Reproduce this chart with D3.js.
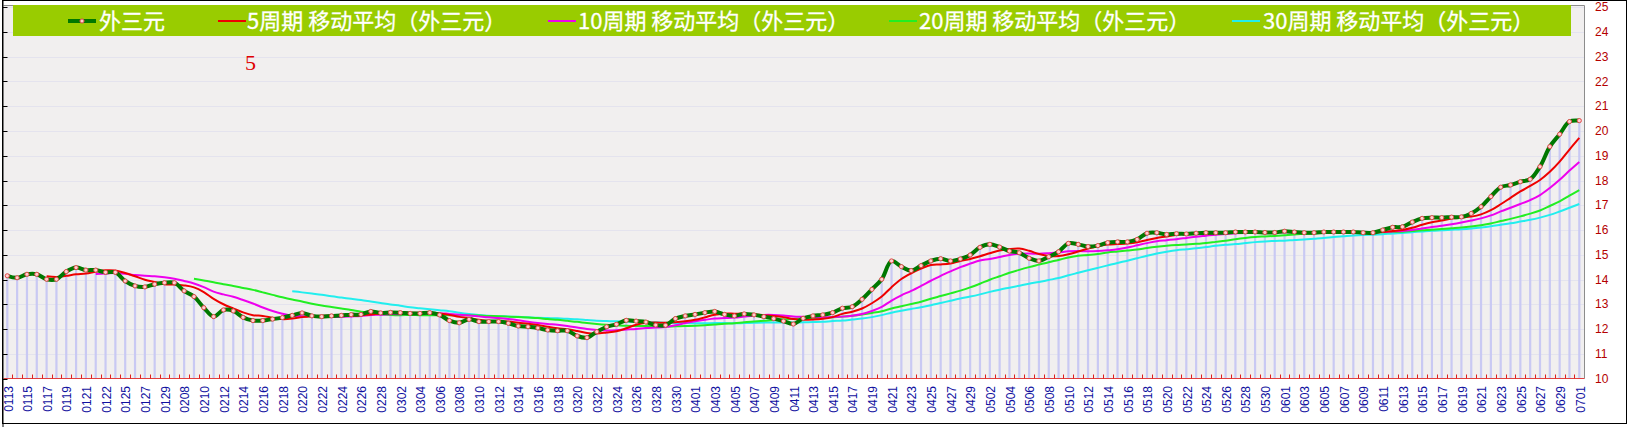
<!DOCTYPE html>
<html><head><meta charset="utf-8">
<script src="https://cdn.jsdelivr.net/npm/d3@7"></script>
<style>body{margin:0;background:#fff}svg{display:block}</style>
</head><body><svg id="c" width="1630" height="427"></svg>
<script>
const tickLabels = ["0113","0115","0117","0119","0121","0122","0125","0127","0129","0208","0210","0212","0214","0216","0218","0220","0222","0224","0226","0228","0302","0304","0306","0308","0310","0312","0314","0316","0318","0320","0322","0324","0326","0328","0330","0401","0403","0405","0407","0409","0411","0413","0415","0417","0419","0421","0423","0425","0427","0429","0502","0504","0506","0508","0510","0512","0514","0516","0518","0520","0522","0524","0526","0528","0530","0601","0603","0605","0607","0609","0611","0613","0615","0617","0619","0621","0623","0625","0627","0629","0701"];
const outerSeries = [14.15,14.07,14.21,14.21,14.01,14.01,14.32,14.48,14.38,14.38,
14.29,14.29,13.94,13.74,13.70,13.81,13.87,13.87,13.54,13.31,
12.86,12.50,12.77,12.73,12.47,12.34,12.34,12.40,12.46,12.55,
12.65,12.53,12.50,12.53,12.55,12.58,12.59,12.71,12.65,12.67,
12.66,12.63,12.63,12.66,12.57,12.34,12.25,12.39,12.30,12.30,
12.30,12.23,12.12,12.09,12.04,11.96,11.93,11.93,11.72,11.65,
11.89,12.09,12.19,12.35,12.32,12.28,12.16,12.15,12.42,12.53,
12.59,12.66,12.71,12.59,12.53,12.61,12.57,12.50,12.42,12.32,
12.20,12.43,12.53,12.57,12.66,12.84,12.90,13.20,13.60,14.01,
14.75,14.52,14.36,14.56,14.75,14.84,14.75,14.83,14.99,15.30,
15.42,15.31,15.15,15.08,14.86,14.75,14.92,15.12,15.46,15.42,
15.33,15.37,15.49,15.52,15.52,15.62,15.87,15.89,15.82,15.85,
15.84,15.87,15.89,15.89,15.89,15.92,15.92,15.92,15.90,15.90,
15.95,15.92,15.89,15.89,15.92,15.92,15.92,15.92,15.89,15.89,
16.00,16.11,16.13,16.32,16.47,16.50,16.50,16.52,16.53,16.67,
16.94,17.35,17.73,17.82,17.95,18.05,18.56,19.37,19.87,20.38,
20.42];
// moving-average series (each starts at index period-1)
const ma5 = [14.13,14.10,14.15,14.21,14.24,14.31,14.37,14.36,14.26,14.13,
13.99,13.90,13.81,13.80,13.76,13.68,13.49,13.22,13.00,12.83,
12.67,12.56,12.53,12.46,12.40,12.42,12.48,12.52,12.54,12.55,
12.55,12.54,12.55,12.59,12.62,12.64,12.66,12.66,12.65,12.65,
12.63,12.57,12.49,12.44,12.37,12.32,12.31,12.30,12.25,12.21,
12.16,12.09,12.03,11.99,11.92,11.84,11.82,11.86,11.91,12.03,
12.17,12.25,12.26,12.25,12.27,12.31,12.37,12.47,12.58,12.62,
12.62,12.62,12.60,12.56,12.53,12.48,12.40,12.37,12.38,12.41,
12.48,12.61,12.70,12.83,13.04,13.31,13.69,14.02,14.25,14.44,
14.59,14.61,14.65,14.75,14.83,14.94,15.06,15.17,15.23,15.25,
15.16,15.03,14.95,14.95,15.02,15.13,15.25,15.34,15.41,15.43,
15.45,15.50,15.60,15.68,15.74,15.81,15.85,15.85,15.85,15.87,
15.88,15.89,15.90,15.91,15.91,15.91,15.92,15.92,15.91,15.91,
15.91,15.91,15.91,15.91,15.91,15.91,15.92,15.96,16.00,16.09,
16.21,16.31,16.38,16.46,16.50,16.54,16.63,16.80,17.04,17.30,
17.56,17.78,18.02,18.35,18.76,19.25,19.72];
const ma10 = [14.22,14.24,14.26,14.23,14.18,14.15,14.13,14.09,14.03,13.94,
13.84,13.69,13.51,13.40,13.30,13.17,13.03,12.87,12.73,12.62,
12.54,12.52,12.52,12.50,12.48,12.49,12.51,12.53,12.57,12.58,
12.60,12.60,12.61,12.62,12.63,12.64,12.61,12.58,12.55,12.51,
12.47,12.44,12.40,12.35,12.29,12.24,12.20,12.17,12.12,12.06,
12.00,11.96,11.94,11.95,11.98,12.00,12.04,12.06,12.08,12.15,
12.24,12.31,12.37,12.42,12.44,12.46,12.50,12.54,12.57,12.57,
12.55,12.51,12.49,12.47,12.47,12.48,12.50,12.54,12.61,12.73,
12.89,13.15,13.36,13.54,13.74,13.95,14.15,14.33,14.50,14.64,
14.77,14.83,14.91,14.99,15.04,15.05,15.04,15.06,15.09,15.14,
15.15,15.14,15.15,15.18,15.22,15.29,15.38,15.47,15.55,15.59,
15.63,15.68,15.73,15.77,15.81,15.84,15.87,15.88,15.88,15.89,
15.89,15.91,15.91,15.91,15.91,15.91,15.91,15.91,15.91,15.91,
15.91,15.92,15.94,15.96,16.00,16.06,16.12,16.17,16.23,16.30,
16.38,16.47,16.59,16.75,16.90,17.05,17.21,17.41,17.70,18.03,
18.40,18.75];
const ma20 = [14.03,13.96,13.89,13.81,13.74,13.66,13.58,13.48,13.38,13.28,
13.19,13.11,13.02,12.95,12.89,12.83,12.77,12.70,12.65,12.60,
12.57,12.56,12.57,12.56,12.56,12.56,12.56,12.56,12.56,12.55,
12.53,12.52,12.50,12.48,12.46,12.44,12.40,12.37,12.33,12.29,
12.24,12.20,12.17,12.15,12.13,12.12,12.12,12.11,12.10,12.11,
12.12,12.13,12.15,12.18,12.21,12.23,12.27,12.30,12.33,12.36,
12.39,12.41,12.43,12.44,12.45,12.47,12.50,12.54,12.59,12.65,
12.72,12.83,12.92,13.01,13.10,13.22,13.33,13.44,13.55,13.68,
13.83,13.99,14.13,14.27,14.39,14.50,14.60,14.70,14.79,14.89,
14.96,14.99,15.03,15.09,15.13,15.17,15.21,15.27,15.32,15.36,
15.39,15.41,15.44,15.47,15.52,15.57,15.63,15.68,15.72,15.74,
15.76,15.79,15.82,15.84,15.86,15.88,15.89,15.90,15.90,15.90,
15.90,15.91,15.92,15.93,15.96,15.99,16.01,16.04,16.07,16.10,
16.14,16.19,16.26,16.36,16.45,16.55,16.66,16.79,16.97,17.16,
17.39,17.61];
const ma30 = [13.53,13.48,13.43,13.38,13.32,13.27,13.22,13.17,13.11,13.05,
12.99,12.94,12.88,12.84,12.80,12.76,12.72,12.66,12.61,12.57,
12.54,12.52,12.51,12.49,12.47,12.45,12.44,12.43,12.41,12.39,
12.36,12.33,12.32,12.31,12.30,12.29,12.28,12.27,12.25,12.24,
12.24,12.23,12.23,12.24,12.24,12.23,12.24,12.25,12.26,12.26,
12.26,12.26,12.27,12.28,12.29,12.32,12.34,12.38,12.42,12.48,
12.56,12.66,12.74,12.81,12.88,12.96,13.05,13.14,13.23,13.31,
13.40,13.50,13.59,13.67,13.75,13.83,13.90,13.98,14.06,14.17,
14.27,14.37,14.47,14.57,14.67,14.76,14.86,14.96,15.05,15.12,
15.18,15.22,15.26,15.31,15.36,15.40,15.43,15.47,15.51,15.54,
15.56,15.57,15.60,15.62,15.65,15.68,15.72,15.75,15.78,15.80,
15.81,15.83,15.86,15.88,15.91,15.94,15.97,15.99,16.01,16.03,
16.06,16.10,16.15,16.21,16.27,16.34,16.41,16.50,16.61,16.75,
16.90,17.05];
const yTickValues = [10,11,12,13,14,15,16,17,18,19,20,21,22,23,24,25];
const seriesNames = ["外三元","5周期 移动平均（外三元）","10周期 移动平均（外三元）","20周期 移动平均（外三元）","30周期 移动平均（外三元）"];
const maPeriods = [5,10,20,30];
const periodMark = "5";

const svg = d3.select("#c");
const L = 3.5, R = 1584.5, T = 5.5, B = 378.5;
const x = d3.scaleLinear().domain([0, outerSeries.length - 1]).range([7.3, 1579.3]);
const y = d3.scaleLinear().domain([10, 25]).range([B, 7.25]);

svg.append("rect").attr("x",0).attr("y",0).attr("width",1630).attr("height",427).attr("fill","#fff");
// plot background (paper tone)
svg.append("rect").attr("x",L).attr("y",T).attr("width",R-L).attr("height",B-T).attr("fill","#f1efef");
// gridlines
svg.append("g").selectAll("line").data(yTickValues.slice(1)).join("line")
  .attr("x1",L).attr("x2",R).attr("y1",d=>Math.round(y(d))+0.5).attr("y2",d=>Math.round(y(d))+0.5)
  .attr("stroke","#e4e3ee").attr("stroke-width",1);
// plot border (top/right gray)
svg.append("path").attr("d",`M${L},${T}H${R}V${B}`).attr("fill","none").attr("stroke","#8c8c8c");

// bars
svg.append("g").selectAll("rect").data(outerSeries).join("rect")
  .attr("x",(d,i)=>x(i)-1.1).attr("width",2.2)
  .attr("y",d=>y(d)).attr("height",d=>B-y(d)).attr("fill","#c9c9f3");

// moving averages
const maSets = [[ma5,"#ee0000"],[ma10,"#ee00ee"],[ma20,"#22ee22"],[ma30,"#22eeee"]];
const lineGen = d3.line().curve(d3.curveCatmullRom.alpha(0.5));
maSets.slice().reverse().forEach(([arr,col],k)=>{
  const p = maPeriods[3-k];
  svg.append("path").attr("fill","none").attr("stroke",col).attr("stroke-width",2)
    .attr("d", lineGen(arr.map((v,j)=>[x(j+p-1), y(v)])));
});
// main series
svg.append("path").attr("fill","none").attr("stroke","#007800").attr("stroke-width",4)
  .attr("d", lineGen(outerSeries.map((v,i)=>[x(i),y(v)])));
svg.append("g").selectAll("circle").data(outerSeries).join("circle")
  .attr("cx",(d,i)=>x(i)).attr("cy",d=>y(d)).attr("r",2.1)
  .attr("fill","#ffd0d0").attr("stroke","#e04848").attr("stroke-width",1);

// bottom axis: red base + ticks
const step = x(1)-x(0);
svg.append("line").attr("x1",L).attr("x2",R).attr("y1",B).attr("y2",B).attr("stroke","#e04040").attr("stroke-width",1);
svg.append("g").selectAll("line").data(outerSeries).join("line")
  .attr("x1",(d,i)=>Math.round(x(i)-step/2)+0.5).attr("x2",(d,i)=>Math.round(x(i)-step/2)+0.5)
  .attr("y1",B-4).attr("y2",B).attr("stroke","#e02020");
// x labels
svg.append("g").selectAll("text").data(tickLabels).join("text")
  .attr("transform",(d,i)=>`translate(${x(i*2)+1},386) rotate(-90)`)
  .attr("text-anchor","end").attr("dy","0.35em")
  .attr("font-family","Liberation Sans, Arial, sans-serif").attr("font-size",12)
  .attr("fill","#1010a0").text(d=>d);

// left axis
svg.append("line").attr("x1",L-0.5).attr("x2",L-0.5).attr("y1",0).attr("y2",427).attr("stroke","#000");
svg.append("g").selectAll("line").data(yTickValues).join("line")
  .attr("x1",L-0.5).attr("x2",L+4).attr("y1",d=>Math.round(y(d))+0.5).attr("y2",d=>Math.round(y(d))+0.5).attr("stroke","#000");
// right axis labels
svg.append("g").selectAll("text").data(yTickValues).join("text")
  .attr("x",1595).attr("y",d=>y(d)).attr("dy","0.35em")
  .attr("font-family","Liberation Sans, Arial, sans-serif").attr("font-size",12)
  .attr("fill","#b40000").text(d=>d);

// legend
svg.append("rect").attr("x",13).attr("y",5).attr("width",1558).attr("height",31).attr("fill","#99cc00");
const legendColors = ["#007800","#ee0000","#ee00ee","#22ee22","#22eeee"];
const legendLineX = [68,218,548,889,1232];
const legendTextX = [99,247,578,919,1263];
const lg = svg.append("g");
seriesNames.forEach((name,k)=>{
  lg.append("line").attr("x1",legendLineX[k]).attr("x2",legendLineX[k]+28).attr("y1",21).attr("y2",21)
    .attr("stroke",legendColors[k]).attr("stroke-width",k===0?4:2);
  if(k===0) lg.append("circle").attr("cx",legendLineX[k]+14).attr("cy",21).attr("r",2.1)
    .attr("fill","#ffd0d0").attr("stroke","#e04848");
  lg.append("text").attr("x",legendTextX[k]).attr("y",21).attr("dy","0.36em")
    .attr("font-family","Noto Sans CJK SC, sans-serif").attr("font-size",22)
    .attr("fill","#fff").attr("stroke","#fff").attr("stroke-width",0.3).text(name);
});
// period mark
svg.append("text").attr("x",245).attr("y",70).attr("font-family","Liberation Serif, serif")
  .attr("font-size",22).attr("fill","#e00000").text(periodMark);
// outer border
svg.append("rect").attr("x",2.5).attr("y",0.5).attr("width",1624).attr("height",423).attr("fill","none").attr("stroke","#000");
</script></body></html>
